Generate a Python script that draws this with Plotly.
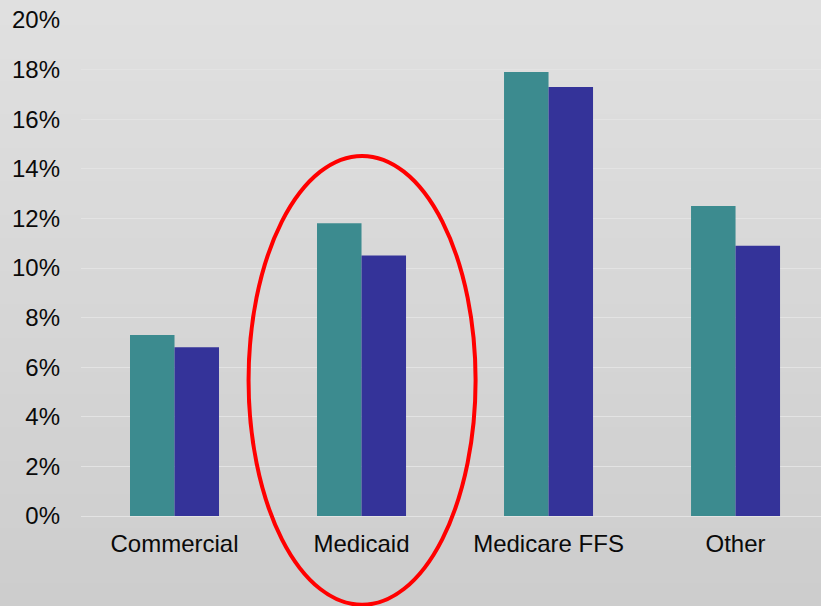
import plotly.graph_objects as go

# Data (percent)
categories = ["Commercial", "Medicaid", "Medicare FFS", "Other"]
series_a = [7.3, 11.8, 17.9, 12.5]
series_b = [6.8, 10.5, 17.3, 10.9]
y_ticks = [0, 2, 4, 6, 8, 10, 12, 14, 16, 18, 20]
y_tick_text = [f"{v}%" for v in y_ticks]

fig = go.Figure()
fig.add_trace(go.Bar(x=categories, y=series_a, marker_color="#3c8b8f",
                     marker_line_width=0, showlegend=False))
fig.add_trace(go.Bar(x=categories, y=series_b, marker_color="#343399",
                     marker_line_width=0, showlegend=False))

# Gray vertical gradient background
shapes = []
n = 60
top, bot = (0xE1, 0xE1, 0xE1), (0xCC, 0xCC, 0xCC)
for i in range(n):
    t = i / (n - 1)
    c = tuple(round(top[k] + (bot[k] - top[k]) * t) for k in range(3))
    shapes.append(dict(type="rect", xref="paper", yref="paper", layer="below",
                       x0=-0.2, x1=1.2, y0=1.1 - (i + 1) * 1.35 / n, y1=1.1 - i * 1.35 / n + 0.002,
                       fillcolor="rgb(%d,%d,%d)" % c, line_width=0))

# Red ellipse around Medicaid
shapes.append(dict(type="circle", xref="x", yref="paper", layer="above",
                   x0=0.396, x1=1.61, y0=-0.179, y1=0.726,
                   line=dict(color="#ff0000", width=4)))

fig.update_layout(
    width=821, height=606,
    margin=dict(l=81, r=0, t=20, b=90),
    paper_bgcolor="#d8d8d8",
    plot_bgcolor="rgba(0,0,0,0)",
    barmode="group", bargap=0.524, bargroupgap=0,
    font=dict(family="Liberation Sans, Arial", size=24, color="#0a0a0a"),
    shapes=shapes,
    xaxis=dict(range=[-0.5, 3.457], showgrid=False, ticks="", showline=False,
               ticklabelstandoff=11, tickfont=dict(size=24)),
    yaxis=dict(range=[0, 20], tickvals=y_ticks, ticktext=y_tick_text,
               showgrid=True, gridcolor="#e3e3e3", gridwidth=1,
               zeroline=True, zerolinecolor="#e3e3e3", zerolinewidth=1,
               ticks="", ticklabelstandoff=20, tickfont=dict(size=24)),
)

fig.write_html("out.html", config={"displayModeBar": False},
               post_script="document.body.style.margin='0';document.body.style.overflow='hidden';")
